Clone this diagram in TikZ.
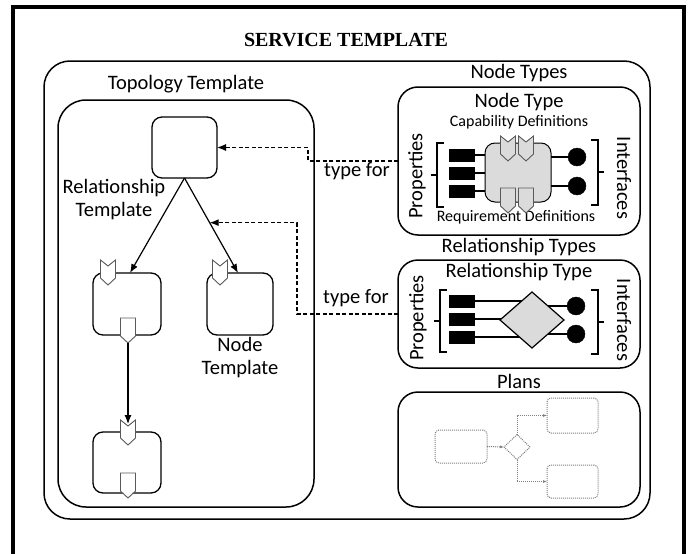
\documentclass[tikz,border=0pt]{standalone}
\usepackage{fontspec}
\setmainfont{Carlito}
\newfontfamily\titlefont{Liberation Serif}
\usetikzlibrary{arrows.meta,shapes.geometric}

\tikzset{
  every node/.style={inner sep=0pt, outer sep=0pt},
  frameline/.style={line width=3.5pt, black},
  bigbox/.style={draw, line width=1.5pt, rounded corners=26pt},
  typebox/.style={draw, line width=1.5pt, rounded corners=20pt},
  tmplbox/.style={draw, line width=1.3pt, rounded corners=10pt, fill=white},
  lbl/.style={font=\fontsize{20.5}{23}\selectfont},
  sublbl/.style={font=\fontsize{20.5}{23}\selectfont},
  smalllbl/.style={font=\fontsize{16}{18}\selectfont},
  propbox/.style={draw, fill=black, minimum width=25pt, minimum height=12pt},
  iface/.style={circle, draw, fill=black, minimum size=18pt},
  corebox/.style={draw, line width=1pt, fill=gray!28, rounded corners=10pt},
  wire/.style={line width=1.2pt},
  bracket/.style={line width=1.2pt},
  relarrow/.style={line width=1.2pt, -{Latex[length=9pt,width=7pt]}},
  typearrow/.style={line width=1.2pt, dash pattern=on 4pt off 2.5pt, -{Latex[length=9pt,width=7pt]}},
  planbox/.style={draw=gray, densely dotted, line width=1pt, rounded corners=4pt},
  planarrow/.style={draw=gray, densely dotted, line width=1pt, -{Latex[length=4pt,width=3pt]}},
  % capability: notched top, pointed bottom
  capab/.pic={
    \draw[line width=0.9pt, draw=gray!70!black, pic actions]
      (-7.5,0) -- (0,6) -- (7.5,0) -- (7.5,18) -- (0,25) -- (-7.5,18) -- cycle;
  },
  % requirement: flat top, pointed bottom
  reqmt/.pic={
    \draw[line width=0.9pt, draw=gray!70!black, pic actions]
      (-7.5,0) -- (7.5,0) -- (7.5,18) -- (0,25) -- (-7.5,18) -- cycle;
  },
}

\begin{document}
\begin{tikzpicture}[x=1pt, y=-1pt]
\useasboundingbox (0,0) rectangle (688,554);
\fill[white] (0,0) rectangle (688,554);

% page frame
\draw[frameline] (13,560) -- (13,7) -- (684,7) -- (684,560);

% service template
\node[font=\titlefont\bfseries\fontsize{20}{22}\selectfont] (title) at (346,40) {SERVICE TEMPLATE};
\node[bigbox, minimum width=606pt, minimum height=458pt] (svc) at (347,290) {};

% ---------------- topology template ----------------
\node[lbl] (toplbl) at (186,84) {Topology Template};
\node[draw, line width=1.5pt, rounded corners=28pt, minimum width=256pt, minimum height=407pt] (topo) at (186,303.5) {};

\node[tmplbox, minimum width=65pt, minimum height=61pt] (top) at (184.5,147.5) {};
\node[tmplbox, minimum width=68pt, minimum height=62pt] (lc) at (127,304) {};
\node[tmplbox, minimum width=66pt, minimum height=62pt] (rc) at (240,304) {};
\node[tmplbox, minimum width=68pt, minimum height=61pt] (bn) at (127,462.5) {};

% capabilities and requirements of the node templates
\pic[fill=white] at (108,260) {capab};
\pic[fill=white] at (220,260) {capab};
\pic[fill=white] at (128,318) {reqmt};
\pic[fill=white] at (128,420) {capab};
\pic[fill=white] at (128,473) {reqmt};
\coordinate (lcreq) at (128,343);
\coordinate (bncap) at (128,424);

% relationship templates
\draw[relarrow] (top.south) -- coordinate[pos=0.47] (relpt) ([xshift=-2pt]rc.north);
\draw[relarrow] (top.south) -- ([xshift=3pt]lc.north);
\draw[relarrow] (lcreq) -- (bncap);

\node[lbl, align=center] (rtlbl) at (114,200) {Relationship\\[0pt]Template};
\node[lbl, align=center] (ntlbl) at (240,358) {Node\\[0pt]Template};

% ---------------- node types ----------------
\node[lbl] (ntslbl) at (519,73) {Node Types};
\node[typebox, minimum width=242pt, minimum height=148pt] (nt) at (519,161) {};
\node[sublbl] (nttitle) at (519,102) {Node Type};
\node[smalllbl] (capdef) at (519,122) {Capability Definitions};
\node[smalllbl] (reqdef) at (516,217) {Requirement Definitions};
\node[lbl, rotate=90] (ntprop) at (417,176) {Properties};
\node[lbl, rotate=-90] (ntif) at (624,178) {Interfaces};

\node[corebox, minimum width=66pt, minimum height=59pt] (core) at (518,172.5) {};
\node[propbox] (np1) at (461.5,155) {};
\node[propbox] (np2) at (461.5,173) {};
\node[propbox] (np3) at (461.5,191) {};
\node[iface] (ni1) at (577,157) {};
\node[iface] (ni2) at (577,186) {};
\draw[wire] (np1.east) -- (np1.east -| core.west);
\draw[wire] (np2.east) -- (np2.east -| core.west);
\draw[wire] (np3.east) -- (np3.east -| core.west);
\draw[wire] (ni1.west -| core.east) -- (ni1.west);
\draw[wire] (ni2.west -| core.east) -- (ni2.west);
\pic[fill=gray!28] at (508,136) {capab};
\pic[fill=gray!28] at (526,136) {capab};
\pic[fill=gray!28] at (508,188) {reqmt};
\pic[fill=gray!28] at (526,188) {reqmt};

\draw[bracket] (444,143) -- (437,143) -- (437,207) -- (444,207);
\draw[bracket] (437,175) -- (431,175);
\draw[bracket] (591,140) -- (598,140) -- (598,205) -- (591,205);
\draw[bracket] (598,172) -- (604,172);

% ---------------- relationship types ----------------
\node[lbl] (rtslbl) at (519,247) {Relationship Types};
\node[typebox, minimum width=242pt, minimum height=108pt] (rt) at (519,314) {};
\node[sublbl] (rttitle) at (519,272) {Relationship Type};
\node[lbl, rotate=90] (rtprop) at (418,318) {Properties};
\node[lbl, rotate=-90] (rtif) at (624,320) {Interfaces};

\node[propbox] (rp1) at (461.5,301) {};
\node[propbox] (rp2) at (461.5,319) {};
\node[propbox] (rp3) at (461.5,337) {};
\node[iface] (ri1) at (576,306) {};
\node[iface] (ri2) at (576,334) {};
\coordinate (dc) at (532,320);
\draw[wire] (rp1.east) -- (rp1.east -| dc);
\draw[wire] (rp2.east) -- (rp2.east -| dc);
\draw[wire] (rp3.east) -- (rp3.east -| dc);
\draw[wire] (ri1.west -| dc) -- (ri1.west);
\draw[wire] (ri2.west -| dc) -- (ri2.west);
\node[diamond, draw, line width=1.2pt, fill=gray!28, minimum width=64pt, minimum height=56pt] (rdia) at (dc) {};

\draw[bracket] (447,290) -- (440,290) -- (440,352) -- (447,352);
\draw[bracket] (440,321) -- (434,321);
\draw[bracket] (591,290) -- (598,290) -- (598,354) -- (591,354);
\draw[bracket] (598,322) -- (604,322);

% ---------------- plans ----------------
\node[lbl] (planlbl) at (519,381) {Plans};
\node[typebox, minimum width=242pt, minimum height=115pt] (plans) at (519,449.5) {};
\node[planbox, minimum width=52pt, minimum height=33pt] (pa) at (461,446.5) {};
\node[diamond, draw=gray, densely dotted, line width=1pt, minimum width=26pt, minimum height=25pt] (pd) at (517,447) {};
\node[planbox, minimum width=51pt, minimum height=35pt] (pb) at (572.5,415.5) {};
\node[planbox, minimum width=51pt, minimum height=33pt] (pc) at (572.5,481.5) {};
\draw[planarrow] (pa.east) -- (pd.west);
\draw[planarrow] (pd.north) |- (pb.west);
\draw[planarrow] (pd.south) |- (pc.west);

% ---------------- type-for links ----------------
\draw[typearrow] (nt.west) -- ++(-90,0) |- (top.east);
\draw[typearrow] (rt.west) -- ++(-101,0) |- (relpt);
\node[lbl] (tf1) at (357,171) {type for};
\node[lbl] (tf2) at (356,298) {type for};
\end{tikzpicture}
\end{document}
